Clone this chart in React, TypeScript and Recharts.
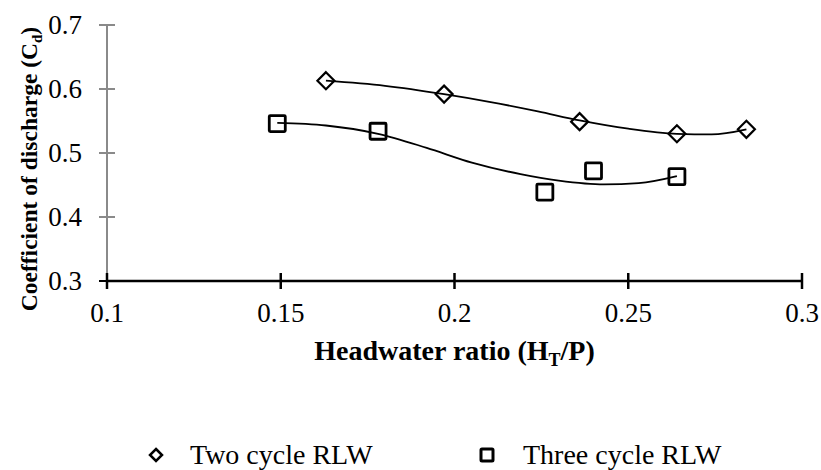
import React from 'react';
import { ScatterChart, Scatter, XAxis, YAxis, Legend } from 'recharts';

// measured points
const twoCycleX = [0.163, 0.197, 0.236, 0.264, 0.284];
const twoCycleY = [0.613, 0.592, 0.549, 0.53, 0.537];
const threeCycleX = [0.149, 0.178, 0.226, 0.24, 0.264];
const threeCycleY = [0.546, 0.534, 0.439, 0.472, 0.463];

// trendlines
const twoTrendX = [0.163, 0.18, 0.197, 0.21, 0.224, 0.236, 0.25, 0.264, 0.274, 0.284];
const twoTrendY = [0.613, 0.605, 0.592, 0.58, 0.565, 0.551, 0.538, 0.53, 0.529, 0.537];
const threeTrendX = [0.149, 0.163, 0.178, 0.192, 0.205, 0.219, 0.23, 0.243, 0.253, 0.264];
const threeTrendY = [0.547, 0.543, 0.53, 0.508, 0.485, 0.467, 0.457, 0.451, 0.453, 0.464];

const xTicks = [0.1, 0.15, 0.2, 0.25, 0.3];
const yTicks = [0.3, 0.4, 0.5, 0.6, 0.7];

const zip = (xs: number[], ys: number[]) => xs.map((x, i) => ({ x, y: ys[i] }));

const twoCycle = zip(twoCycleX, twoCycleY);
const threeCycle = zip(threeCycleX, threeCycleY);
const twoTrend = zip(twoTrendX, twoTrendY);
const threeTrend = zip(threeTrendX, threeTrendY);

const serif = { fontFamily: '"Liberation Serif"' };
const AXIS_GRAY = '#8a8a8a';

const Diamond = ({ cx, cy }: any) => (
  <polygon
    points={`${cx},${cy - 8.5} ${cx + 8.5},${cy} ${cx},${cy + 8.5} ${cx - 8.5},${cy}`}
    fill="none"
    stroke="#000"
    strokeWidth={2.2}
  />
);

const Square = ({ cx, cy }: any) => (
  <rect x={cx - 8} y={cy - 8} width={16} height={16} fill="none" stroke="#000" strokeWidth={2.8} rx={1} />
);

const NoDot = () => <g />;

const XTick = ({ x, y, payload }: any) => (
  <g>
    <line x1={x} x2={x} y1={y - 8} y2={y + 8} stroke="#000" strokeWidth={2.5} />
    <text x={x} y={y + 41} textAnchor="middle" style={serif} fontSize={27} fill="#000">
      {payload.value}
    </text>
  </g>
);

const YTick = ({ x, y, payload }: any) => (
  <g>
    <line x1={x - 8} x2={x + 8} y1={y} y2={y} stroke={payload.value === 0.3 ? '#000' : AXIS_GRAY} strokeWidth={2} />
    <text x={x - 25} y={y + 9} textAnchor="end" style={serif} fontSize={27} fill="#000">
      {payload.value}
    </text>
  </g>
);

const XTitle = ({ viewBox }: any) => (
  <text
    x={viewBox.x + viewBox.width / 2}
    y={360}
    textAnchor="middle"
    style={serif}
    fontWeight="bold"
    fontSize={28}
    fill="#000"
  >
    <tspan>Headwater ratio (H</tspan>
    <tspan dy={6} fontSize={18}>T</tspan>
    <tspan dy={-6}>/P)</tspan>
  </text>
);

const YTitle = () => (
  <text
    x={0}
    y={0}
    transform="translate(37, 169) rotate(-90)"
    textAnchor="middle"
    style={serif}
    fontWeight="bold"
    fontSize={23.5}
    fill="#000"
  >
    <tspan>Coefficient of discharge (C</tspan>
    <tspan dy={5} fontSize={15}>d</tspan>
    <tspan dy={-5}>)</tspan>
  </text>
);

const LegendContent = () => (
  <svg width={821} height={30} style={{ display: 'block' }}>
    <polygon points="156,9 162,15 156,21 150,15" fill="none" stroke="#000" strokeWidth={2.5} />
    <text x={190} y={24} style={serif} fontSize={28} fill="#000">Two cycle RLW</text>
    <rect x={481} y={9} width={12} height={12} fill="none" stroke="#000" strokeWidth={3} rx={1} />
    <text x={523} y={24} style={serif} fontSize={28} fill="#000">Three cycle RLW</text>
  </svg>
);

export default function App() {
  return (
    <div style={{ position: 'absolute', left: 0, top: 0, background: '#fff' }}>
      <ScatterChart width={821} height={470} margin={{ top: 25, right: 19, left: 0, bottom: 0 }}>
        <XAxis
          type="number"
          dataKey="x"
          domain={[0.1, 0.3]}
          ticks={xTicks}
          interval={0}
          height={159}
          axisLine={{ stroke: '#000', strokeWidth: 2.5 }}
          tickLine={false}
          tickSize={0}
          tickMargin={0}
          tick={<XTick />}
          label={{ content: (p: any) => <XTitle {...p} /> }}
        />
        <YAxis
          type="number"
          dataKey="y"
          domain={[0.3, 0.7]}
          ticks={yTicks}
          interval={0}
          width={107}
          axisLine={{ stroke: AXIS_GRAY, strokeWidth: 2 }}
          tickLine={false}
          tickSize={0}
          tickMargin={0}
          tick={<YTick />}
          label={{ content: () => <YTitle /> }}
        />
        <Legend verticalAlign="bottom" height={30} content={() => <LegendContent />} />
        <Scatter
          name="Two cycle trend"
          data={twoTrend}
          line={{ stroke: '#000', strokeWidth: 1.8 }}
          lineJointType="monotoneX"
          shape={<NoDot />}
          legendType="none"
          isAnimationActive={false}
        />
        <Scatter
          name="Three cycle trend"
          data={threeTrend}
          line={{ stroke: '#000', strokeWidth: 1.8 }}
          lineJointType="monotoneX"
          shape={<NoDot />}
          legendType="none"
          isAnimationActive={false}
        />
        <Scatter name="Two cycle RLW" data={twoCycle} shape={<Diamond />} isAnimationActive={false} />
        <Scatter name="Three cycle RLW" data={threeCycle} shape={<Square />} isAnimationActive={false} />
      </ScatterChart>
    </div>
  );
}
